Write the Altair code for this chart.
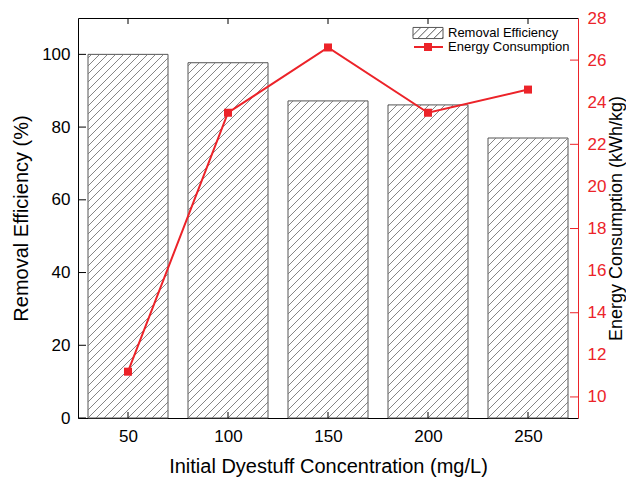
import altair as alt
import pandas as pd

conc = [50, 100, 150, 200, 250]
removal = [100.0, 97.7, 87.2, 86.1, 77.0]
energy = [11.2, 23.5, 26.6, 23.5, 24.6]
left_ticks = [0, 20, 40, 60, 80, 100]
right_labels = [10, 12, 14, 16, 18, 20, 22, 24, 26, 28]
right_ticks = [10, 14, 18, 22, 26]

W, H = 500, 400
XDOM = [25, 275]
YDOM = [0, 110]
Y2DOM = [9, 28]
RED = "#ec2329"
FONT = "Liberation Sans"
HALF = 20  # bar half width in x units

bars = pd.DataFrame({"conc": conc, "removal": removal})
bars["x0"] = bars["conc"] - HALF
bars["x1"] = bars["conc"] + HALF
line = pd.DataFrame({"conc": conc, "energy": energy})

# hatch segments derived from the bar values (45 degrees in screen space)
pxx = W / (XDOM[1] - XDOM[0])
pxy = H / (YDOM[1] - YDOM[0])
bw = 2 * HALF * pxx
step = 8
rows = []
for c, v in zip(conc, removal):
    h = v * pxy
    k = -bw
    while k < h:
        a = max(0.0, -k)
        b = min(bw, h - k)
        if b > a:
            rows.append({
                "hx": c - HALF + a / pxx, "hy": (a + k) / pxy,
                "hx2": c - HALF + b / pxx, "hy2": (b + k) / pxy,
            })
        k += step
hatch = pd.DataFrame(rows)

xs = alt.Scale(domain=XDOM, nice=False, zero=False)
ys = alt.Scale(domain=YDOM, nice=False)
y2s = alt.Scale(domain=Y2DOM, nice=False, zero=False)

x_bottom = alt.Axis(
    values=conc, orient="bottom", title="Initial Dyestuff Concentration (mg/L)",
    ticks=False, grid=False, domainColor="black", labelPadding=10, titlePadding=12,
)
x_top = alt.Axis(
    values=conc, orient="top", title=None, labels=False, ticks=False,
    grid=False, domainColor="black",
)

rect = alt.Chart(bars).mark_rect(fill="white", fillOpacity=0, stroke="#555555", strokeWidth=1).encode(
    x=alt.X("x0:Q", scale=xs, axis=x_bottom),
    x2="x1:Q",
    y=alt.Y("removal:Q", scale=ys, axis=alt.Axis(
        values=left_ticks, orient="left", title="Removal Efficiency (%)",
        ticks=False, grid=False, domainColor="black", labelPadding=8, titlePadding=10,
    )),
    y2=alt.datum(0),
)
hl = alt.Chart(hatch).mark_rule(stroke="#777777", strokeWidth=0.9).encode(
    x=alt.X("hx:Q", scale=xs), x2="hx2:Q",
    y=alt.Y("hy:Q", scale=ys), y2="hy2:Q",
)
lt = alt.Chart(pd.DataFrame({"v": left_ticks})).mark_rule(color="black", strokeWidth=1).encode(
    y=alt.Y("v:Q", scale=ys), x=alt.value(0), x2=alt.value(8))
bt = alt.Chart(pd.DataFrame({"c": conc})).mark_rule(color="black", strokeWidth=1).encode(
    x=alt.X("c:Q", scale=xs), y=alt.value(H - 6), y2=alt.value(H))
left = alt.layer(rect, hl, lt, bt)

eline = alt.Chart(line).mark_line(color=RED, strokeWidth=2).encode(
    x=alt.X("conc:Q", scale=xs, axis=x_top),
    y=alt.Y("energy:Q", scale=y2s, axis=alt.Axis(
        values=right_labels, orient="right", title="Energy Consumption (kWh/kg)",
        titleColor="black", labelColor=RED, domainColor=RED, ticks=False, grid=False,
        titleAngle=270, titleBaseline="top", titleFontSize=18,
        labelPadding=9, titlePadding=2,
    )),
)
epts = alt.Chart(line).mark_point(shape="square", filled=True, size=64, color=RED, opacity=1).encode(
    x=alt.X("conc:Q", scale=xs), y=alt.Y("energy:Q", scale=y2s),
)
rt = alt.Chart(pd.DataFrame({"v": right_ticks})).mark_rule(color=RED, strokeWidth=1).encode(
    y=alt.Y("v:Q", scale=y2s), x=alt.value(W - 8), x2=alt.value(W))
tt = alt.Chart(pd.DataFrame({"c": conc})).mark_rule(color="black", strokeWidth=1).encode(
    x=alt.X("c:Q", scale=xs), y=alt.value(0), y2=alt.value(6))
right = alt.layer(eline, epts, rt, tt)

# legend
swatch_path = "M-1,-0.37H1V0.37H-1Z"
s = 0.53
xk = -1.74
while xk < 1:
    xa, ya = xk, 0.37
    xb, yb = xk + 0.74, -0.37
    if xa < -1:
        ya -= (-1 - xa); xa = -1
    if xb > 1:
        yb += (xb - 1); xb = 1
    if xb > xa:
        swatch_path += f" M{xa:.3f},{ya:.3f}L{xb:.3f},{yb:.3f}"
    xk += s

leg_df = pd.DataFrame({"t": ["Removal Efficiency"]})
leg_df2 = pd.DataFrame({"t": ["Energy Consumption"]})
sw = alt.Chart(leg_df).mark_point(shape=swatch_path, filled=False, stroke="#555555", strokeWidth=1, size=900, opacity=1).encode(
    x=alt.value(350), y=alt.value(15))
t1 = alt.Chart(leg_df).mark_text(align="left", baseline="middle", font=FONT, fontSize=13).encode(
    x=alt.value(370), y=alt.value(15), text="t:N")
lr = alt.Chart(leg_df2).mark_rule(color=RED, strokeWidth=2).encode(
    x=alt.value(336), x2=alt.value(365), y=alt.value(29))
lp = alt.Chart(leg_df2).mark_point(shape="square", filled=True, size=64, color=RED, opacity=1).encode(
    x=alt.value(350), y=alt.value(29))
t2 = alt.Chart(leg_df2).mark_text(align="left", baseline="middle", font=FONT, fontSize=13).encode(
    x=alt.value(370), y=alt.value(29), text="t:N")

chart = alt.layer(left, right, sw, t1, lr, lp, t2).resolve_scale(
    y="independent", x="independent"
).properties(
    width=W, height=H,
    autosize=alt.AutoSizeParams(type="none"),
    padding={"left": 70, "top": 10, "right": 48, "bottom": 59},
    background="white",
).configure_view(stroke=None).configure_axis(
    labelFont=FONT, titleFont=FONT, labelFontSize=17, titleFontSize=20,
    titleFontWeight="normal", labelColor="black", titleColor="black",
)

chart.save("out.html", embed_options={"renderer": "svg", "actions": False})
